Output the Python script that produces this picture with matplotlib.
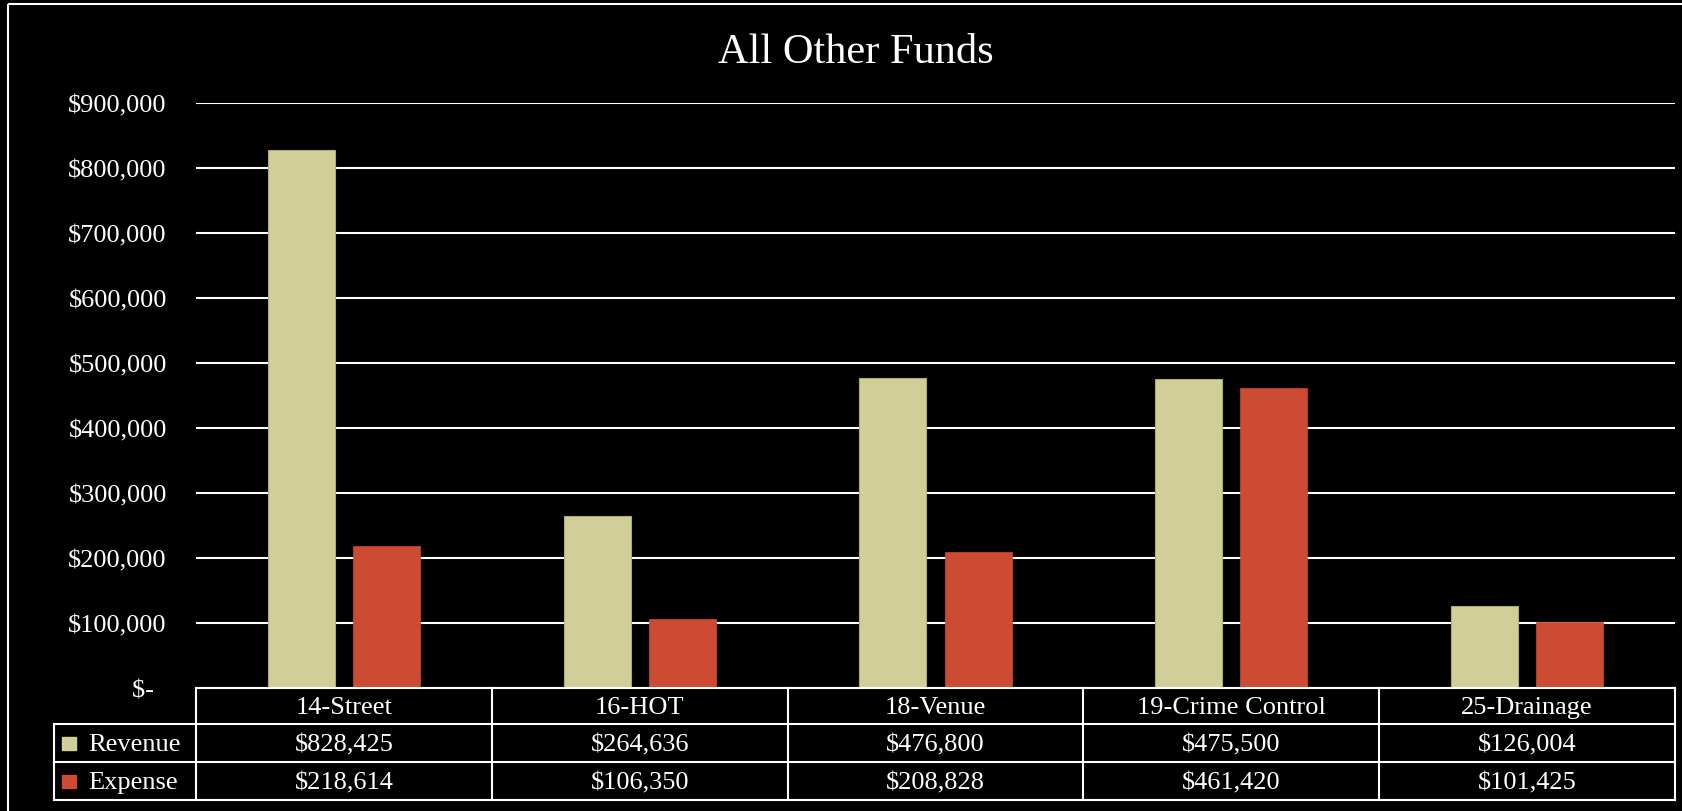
import matplotlib
matplotlib.use("Agg")
import matplotlib.pyplot as plt
import numpy as np
from matplotlib.patches import Rectangle
from matplotlib.lines import Line2D
from matplotlib.transforms import Affine2D, blended_transform_factory

# data
categories = ["14-Street", "16-HOT", "18-Venue", "19-Crime Control", "25-Drainage"]
revenue = [828425, 264636, 476800, 475500, 126004]
expense = [218614, 106350, 208828, 461420, 101425]
series_names = ["Revenue", "Expense"]
yticks = [0, 100000, 200000, 300000, 400000, 500000, 600000, 700000, 800000, 900000]

rev_color = "#D2CE98"
exp_color = "#CC4B32"
W, H = 1683, 812
font = "Liberation Serif"
fs = 19

plt.rcParams["font.family"] = [font, "DejaVu Serif"]

fig = plt.figure(figsize=(W / 100, H / 100), dpi=100, facecolor="black")

# pixel coords, y from the top
px = Affine2D().scale(1 / W, -1 / H).translate(0, 1) + fig.transFigure

# outer frame
fig.add_artist(Rectangle((8, 5), 1700, 830, transform=px, fill=False,
                         edgecolor="white", lw=1.5))

fig.text(856, 63, "All Other Funds", transform=px, color="white",
         fontsize=30.5, ha="center", va="baseline")

left, right, top, bottom = 196, 1675, 104, 689
ax = fig.add_axes([left / W, (H - bottom) / H, (right - left) / W, (bottom - top) / H])
ax.set_facecolor("none")

x = np.arange(len(categories))
bw = 0.227
off = 0.144
ax.bar(x - off, revenue, bw, color=rev_color, edgecolor="#AFAB78", lw=0.8, zorder=3)
ax.bar(x + off, expense, bw, color=exp_color, edgecolor=exp_color, lw=0.5, zorder=3)

ax.set_xlim(-0.5, len(categories) - 0.5)
ax.set_ylim(0, 900000)
ax.set_xticks([])
ax.set_yticks(yticks)
ax.set_yticklabels(["$-  " if v == 0 else f"${v:,.0f}" for v in yticks],
                   color="white", fontsize=fs)
ax.tick_params(axis="y", length=0, pad=21)
for s in ax.spines.values():
    s.set_visible(False)
ax.grid(axis="y", color="white", lw=1.5, zorder=1)

# data table under the axes
tr = blended_transform_factory(ax.transData, px)
x0, x1 = -0.5, len(categories) - 0.5
lx = -0.5 - (left - 54) / ((right - left) / len(categories))
row_y = [689, 725, 763, 801]
lw = 1.5
kw = dict(transform=tr, color="white", lw=lw, clip_on=False)

# horizontal lines
fig.add_artist(Line2D([x0, x1], [row_y[0], row_y[0]], **kw))
for yy in row_y[1:]:
    fig.add_artist(Line2D([lx, x1], [yy, yy], **kw))
# vertical lines
fig.add_artist(Line2D([lx, lx], [row_y[1], row_y[3]], **kw))
for i in range(len(categories) + 1):
    xx = i - 0.5
    fig.add_artist(Line2D([xx, xx], [row_y[0], row_y[3]], **kw))

tkw = dict(transform=tr, color="white", fontsize=fs, ha="center", va="center")
for i, c in enumerate(categories):
    fig.text(i, (row_y[0] + row_y[1]) / 2 + 1, c, **tkw)
    fig.text(i, (row_y[1] + row_y[2]) / 2 + 1, f"${revenue[i]:,.0f}", **tkw)
    fig.text(i, (row_y[2] + row_y[3]) / 2 + 1, f"${expense[i]:,.0f}", **tkw)

# legend keys in the row header
for j, (name, col) in enumerate(zip(series_names, [rev_color, exp_color])):
    yc = (row_y[j + 1] + row_y[j + 2]) / 2
    fig.add_artist(Rectangle((62, yc - 6.5), 14, 13, transform=px, color=col))
    fig.text(88, yc + 1, name, transform=px, color="white", fontsize=fs,
             ha="left", va="center")

fig.savefig("out.png", dpi=100, facecolor="black")
